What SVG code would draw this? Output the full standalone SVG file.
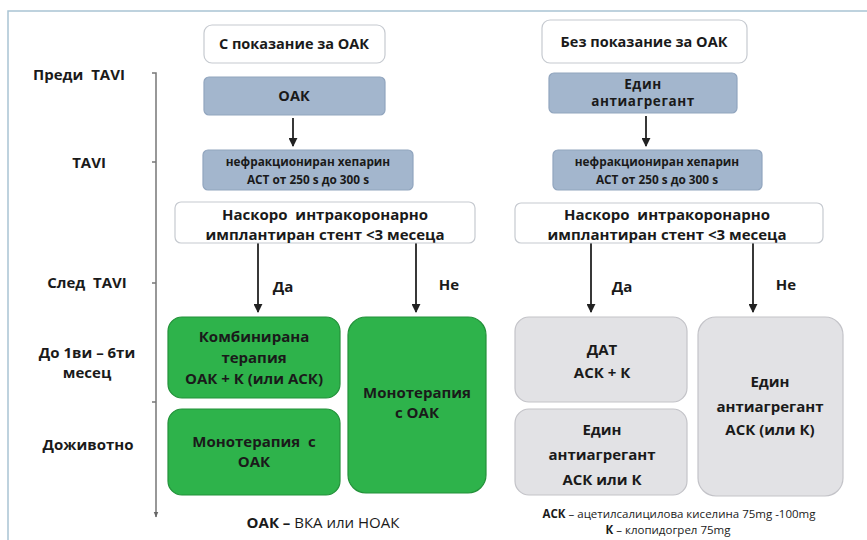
<svg xmlns="http://www.w3.org/2000/svg" width="867" height="540" viewBox="0 0 867 540">
<defs>
<style>
text{font-family:"Open Sans","Liberation Sans",sans-serif;font-weight:700;fill:#1a1a1a;text-anchor:middle}
.lbl{font-size:15px}
.t13{font-size:11.8px}
.t14{font-size:14.5px}
.t15{font-size:15px}
.ea{font-size:13.5px;letter-spacing:0.6px}
.w{fill:#ffffff;stroke:#c6cad0;stroke-width:1.2}
.b{fill:#a3b6cd;stroke:#91a5be;stroke-width:1.2}
.g{fill:#2eb34b;stroke:#23913a;stroke-width:1.2}
.gr{fill:#e2e2e5;stroke:#c3c3c8;stroke-width:1.2}
.c{stroke:#222;stroke-width:1.8;fill:none}
.n{font-weight:400}
</style>
<marker id="ah" viewBox="0 0 10 10" refX="9" refY="5" markerWidth="5" markerHeight="5" orient="auto"><path d="M0,0 L10,5 L0,10 z" fill="#222"/></marker>
<marker id="ah2" viewBox="0 0 10 10" refX="9" refY="5" markerWidth="4" markerHeight="4" orient="auto"><path d="M0,1 L10,5 L0,9 z" fill="#666"/></marker>
</defs>
<rect width="867" height="540" fill="#ffffff"/>
<path d="M8,540 V11 H867" fill="none" stroke="#a9c4d4" stroke-width="1.5"/>

<g id="timeline">
<path d="M152,73 H156 V517" fill="none" stroke="#777" stroke-width="1.5" marker-end="url(#ah2)"/>
<path d="M152,162 H156 M152,283 H156 M152,402 H156" stroke="#777" stroke-width="1.5"/>
<text class="lbl" x="79" y="80">Преди&#160; TAVI</text>
<text class="lbl" x="89" y="168">TAVI</text>
<text class="lbl" x="87" y="288">След&#160; TAVI</text>
<text class="lbl" x="87" y="358">До 1ви – 6ти</text>
<text class="lbl" x="87" y="378">месец</text>
<text class="lbl" x="88" y="450">Доживотно</text>
</g>

<g id="connectors">
<path class="c" d="M293,118 V146" marker-end="url(#ah)"/>
<path class="c" d="M258,243 V312" marker-end="url(#ah)"/>
<path class="c" d="M416,243 V312" marker-end="url(#ah)"/>
<path class="c" d="M646,116 V146" marker-end="url(#ah)"/>
<path class="c" d="M591,243 V312" marker-end="url(#ah)"/>
<path class="c" d="M753,243 V312" marker-end="url(#ah)"/>
<text class="t15" x="283" y="292">Да</text>
<text class="t15" x="449" y="290">Не</text>
<text class="t15" x="622" y="292">Да</text>
<text class="t15" x="786" y="290">Не</text>
</g>

<g id="left-indication">
<rect class="w" x="204" y="25" width="181" height="38" rx="8"/>
<text class="t14" x="294" y="49">С показание за ОАК</text>
</g>
<g id="left-oak">
<rect class="b" x="204" y="77" width="181" height="38" rx="5"/>
<text class="t14" x="294" y="101">ОАК</text>
</g>
<g id="left-heparin">
<rect class="b" x="203" y="150" width="210" height="40" rx="5"/>
<text class="t13" x="308" y="166">нефракциониран хепарин</text>
<text class="t13" x="308" y="184">АСТ от 250 s до 300 s</text>
</g>
<g id="left-stent">
<rect class="w" x="175" y="202" width="300" height="41" rx="6"/>
<text class="t15" x="325" y="220">Наскоро&#160; интракоронарно</text>
<text class="t15" x="325" y="240">имплантиран стент &lt;3 месеца</text>
</g>
<g id="left-combined">
<rect class="g" x="168" y="317" width="172" height="81" rx="14"/>
<text class="t15" x="254" y="342">Комбинирана</text>
<text class="t15" x="254" y="363">терапия</text>
<text class="t15" x="254" y="384">ОАК + К (или АСК)</text>
</g>
<g id="left-mono-life">
<rect class="g" x="168" y="409" width="172" height="86" rx="14"/>
<text class="t15" x="254" y="447">Монотерапия&#160; с</text>
<text class="t15" x="254" y="467">ОАК</text>
</g>
<g id="left-mono">
<rect class="g" x="348" y="317" width="138" height="176" rx="18"/>
<text class="t15" x="417" y="398">Монотерапия</text>
<text class="t15" x="417" y="418">с ОАК</text>
</g>

<g id="right-indication">
<rect class="w" x="542" y="20" width="205" height="43" rx="8"/>
<text class="t14" x="644" y="47">Без показание за ОАК</text>
</g>
<g id="right-antiplatelet">
<rect class="b" x="549" y="73" width="188" height="40" rx="5"/>
<text class="ea" x="643" y="89">Един</text>
<text class="ea" x="643" y="106">антиагрегант</text>
</g>
<g id="right-heparin">
<rect class="b" x="553" y="150" width="209" height="40" rx="5"/>
<text class="t13" x="657" y="166">нефракциониран хепарин</text>
<text class="t13" x="657" y="184">АСТ от 250 s до 300 s</text>
</g>
<g id="right-stent">
<rect class="w" x="515" y="203" width="308" height="40" rx="6"/>
<text class="t15" x="667" y="220">Наскоро&#160; интракоронарно</text>
<text class="t15" x="667" y="240">имплантиран стент &lt;3 месеца</text>
</g>
<g id="right-dat">
<rect class="gr" x="515" y="317" width="172" height="85" rx="14"/>
<text class="t15" x="602" y="355">ДАТ</text>
<text class="t15" x="602" y="378">АСК + К</text>
</g>
<g id="right-single-life">
<rect class="gr" x="515" y="409" width="172" height="86" rx="14"/>
<text class="t15" x="602" y="435">Един</text>
<text class="t15" x="602" y="460">антиагрегант</text>
<text class="t15" x="602" y="485">АСК или К</text>
</g>
<g id="right-single">
<rect class="gr" x="698" y="317" width="145" height="179" rx="18"/>
<text class="t15" x="770" y="387">Един</text>
<text class="t15" x="770" y="412">антиагрегант</text>
<text class="t15" x="770" y="435">АСК (или К)</text>
</g>

<g id="legend">
<text style="font-size:15px" x="323" y="528">ОАК –<tspan class="n"> ВКА или НОАК</tspan></text>
<text style="font-size:11.5px" x="679" y="518">АСК<tspan class="n"> – ацетилсалицилова киселина 75mg -100mg</tspan></text>
<text style="font-size:11.5px" x="668" y="534">К<tspan class="n"> – клопидогрел 75mg</tspan></text>
</g>
</svg>
